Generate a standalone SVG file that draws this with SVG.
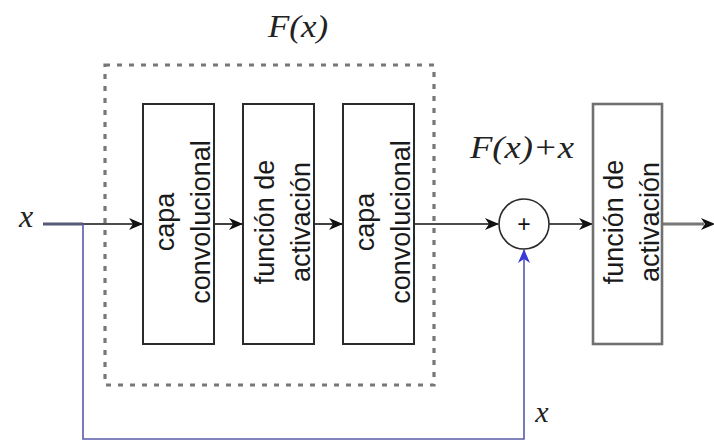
<svg xmlns="http://www.w3.org/2000/svg" width="714" height="445" viewBox="0 0 714 445">
<style>
.box{fill:#fff;stroke:#2a2a2a;stroke-width:2}
.lbl{font-family:"Liberation Sans",Arial,sans-serif;font-size:27px;fill:#1a1a1a;text-anchor:middle}
.math{font-family:"Liberation Serif","Times New Roman",serif;font-style:italic;fill:#222;text-anchor:middle}
.conn{fill:none;stroke:#111;stroke-width:1.6}
</style>
<defs>
<marker id="ah" viewBox="0 0 14 12" refX="13" refY="6" markerWidth="14" markerHeight="12" markerUnits="userSpaceOnUse" orient="auto">
<path d="M0,0 L14,6 L0,12 L4,6 Z" fill="#111"/>
</marker>
<marker id="ahb" viewBox="0 0 14 12" refX="13" refY="6" markerWidth="14" markerHeight="12" markerUnits="userSpaceOnUse" orient="auto">
<path d="M0,0 L14,6 L0,12 L4,6 Z" fill="#3a3ad8"/>
</marker>
</defs>
<rect width="714" height="445" fill="#fff"/>
<text class="math" x="298" y="37" font-size="32" textLength="60" lengthAdjust="spacingAndGlyphs">F(x)</text>
<g id="residual-block">
<rect x="105" y="65" width="329" height="320" fill="none" stroke="#777" stroke-width="3.2" stroke-dasharray="5,7"/>
</g>
<g id="connectors">
<path d="M43,224 H83" fill="none" stroke="#555a78" stroke-width="3"/>
<path class="conn" d="M83,224 H142" marker-end="url(#ah)"/>
<path class="conn" d="M214,224 H242" marker-end="url(#ah)"/>
<path class="conn" d="M314,224 H342" marker-end="url(#ah)"/>
<path class="conn" d="M414,224 H498" marker-end="url(#ah)"/>
<path class="conn" d="M549,224 H592" marker-end="url(#ah)"/>
<path d="M662,224 H704" fill="none" stroke="#777" stroke-width="3"/>
<path d="M700,224 H714" fill="none" stroke="none" marker-end="url(#ah)"/>
<path d="M83,224 V439 H524 V250" fill="none" stroke="#5a5aa8" stroke-width="1.6" marker-end="url(#ahb)"/>
</g>
<g id="conv1">
<rect class="box" x="143" y="104" width="71" height="240"/>
<text class="lbl" transform="translate(178.5,222) rotate(-90)"><tspan x="0" y="-5">capa</tspan><tspan x="0" y="31">convolucional</tspan></text>
</g>
<g id="act1">
<rect class="box" x="243" y="104" width="71" height="240"/>
<text class="lbl" transform="translate(278.5,222) rotate(-90)"><tspan x="0" y="-5">función de</tspan><tspan x="0" y="31">activación</tspan></text>
</g>
<g id="conv2">
<rect class="box" x="343" y="104" width="71" height="240"/>
<text class="lbl" transform="translate(378.5,222) rotate(-90)"><tspan x="0" y="-5">capa</tspan><tspan x="0" y="31">convolucional</tspan></text>
</g>
<g id="sum">
<circle cx="524" cy="224" r="25" fill="#fff" stroke="#2a2a2a" stroke-width="1.6"/>
<text x="524" y="232" font-family="Liberation Sans,Arial,sans-serif" font-size="23" text-anchor="middle" fill="#111">+</text>
</g>
<g id="act2">
<rect x="593" y="104" width="69" height="240" fill="#fff" stroke="#707070" stroke-width="2.6"/>
<text class="lbl" transform="translate(627.5,222) rotate(-90)"><tspan x="0" y="-5">función de</tspan><tspan x="0" y="31">activación</tspan></text>
</g>
<text class="math" x="26" y="227" font-size="32">x</text>
<text class="math" x="522" y="158" font-size="32" textLength="104" lengthAdjust="spacingAndGlyphs">F(x)+x</text>
<text class="math" x="542" y="422" font-size="30">x</text>
</svg>
